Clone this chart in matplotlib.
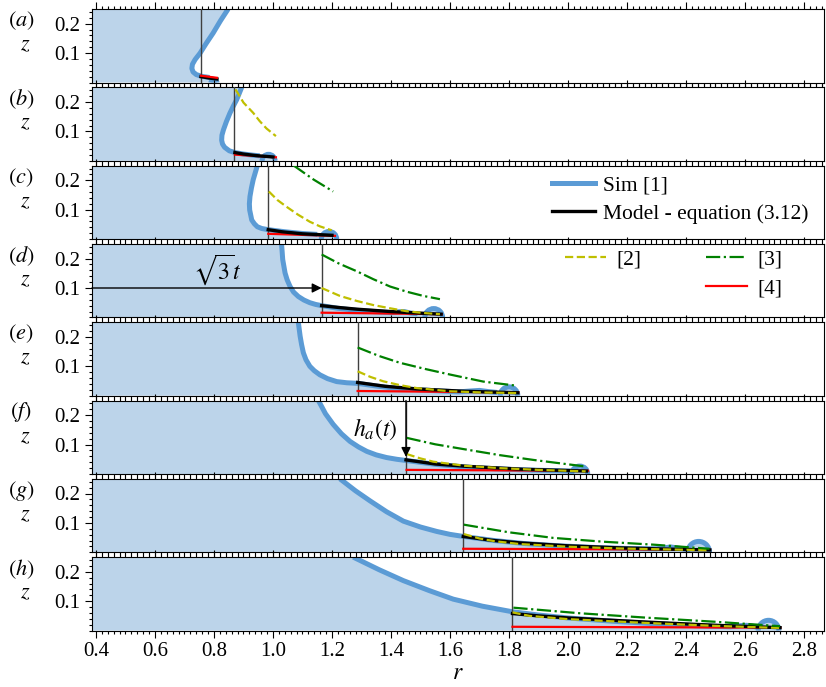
import matplotlib
matplotlib.use('Agg')
import matplotlib.pyplot as plt
from matplotlib.patches import Wedge, Arc
from matplotlib.ticker import MultipleLocator, FixedLocator
from matplotlib.lines import Line2D

plt.rcParams['font.family'] = ['Liberation Serif', 'DejaVu Serif']
plt.rcParams['mathtext.fontset'] = 'stix'

# ---------------- data ----------------
panel_labels = ['a', 'b', 'c', 'd', 'e', 'f', 'g', 'h']
front_r = [0.756, 0.869, 0.984, 1.165, 1.287, 1.451, 1.645, 1.812]  # sqrt(3) t

sim_r = [
    [0.848, 0.822, 0.797, 0.773, 0.753, 0.736, 0.727, 0.725, 0.729, 0.740, 0.758, 0.785],
    [0.894, 0.886, 0.877, 0.865, 0.854, 0.842, 0.832, 0.827, 0.826, 0.829, 0.836, 0.852, 0.871, 0.90, 0.933, 0.955],
    [0.947, 0.940, 0.933, 0.927, 0.922, 0.920, 0.921, 0.928, 0.937, 0.947, 0.962, 0.979, 1.0, 1.04, 1.10, 1.15],
    [1.029, 1.031, 1.033, 1.037, 1.041, 1.048, 1.058, 1.070, 1.086, 1.105, 1.125, 1.145, 1.165, 1.22, 1.284, 1.34, 1.40, 1.425, 1.445, 1.465, 1.49],
    [1.086, 1.089, 1.092, 1.097, 1.103, 1.112, 1.125, 1.14, 1.159, 1.185, 1.216, 1.25, 1.287, 1.35, 1.40, 1.48, 1.55, 1.63, 1.67, 1.70, 1.73, 1.76],
    [1.154, 1.178, 1.204, 1.232, 1.261, 1.29, 1.318, 1.35, 1.385, 1.42, 1.451, 1.55, 1.65, 1.75, 1.85, 1.93, 1.98, 2.01],
    [1.227, 1.28, 1.329, 1.385, 1.442, 1.50, 1.555, 1.60, 1.645, 1.75, 1.85, 1.97, 2.1, 2.2, 2.30, 2.33, 2.35, 2.37, 2.40],
    [1.272, 1.36, 1.442, 1.53, 1.611, 1.71, 1.812, 1.90, 2.0, 2.15, 2.3, 2.45, 2.55, 2.585, 2.606, 2.625, 2.645],
]
sim_z = [
    [0.25, 0.21, 0.168, 0.132, 0.10, 0.078, 0.062, 0.048, 0.036, 0.027, 0.021, 0.017],
    [0.25, 0.23, 0.208, 0.185, 0.162, 0.133, 0.105, 0.087, 0.070, 0.057, 0.046, 0.034, 0.028, 0.023, 0.019, 0.017],
    [0.25, 0.226, 0.202, 0.174, 0.145, 0.12, 0.099, 0.065, 0.052, 0.042, 0.036, 0.033, 0.030, 0.025, 0.019, 0.016],
    [0.25, 0.225, 0.197, 0.174, 0.151, 0.128, 0.105, 0.086, 0.071, 0.059, 0.050, 0.044, 0.040, 0.031, 0.024, 0.020, 0.016, 0.019, 0.020, 0.015, 0.012],
    [0.25, 0.226, 0.203, 0.174, 0.146, 0.122, 0.10, 0.085, 0.071, 0.058, 0.048, 0.044, 0.042, 0.033, 0.027, 0.021, 0.017, 0.013, 0.016, 0.018, 0.014, 0.011],
    [0.25, 0.205, 0.169, 0.137, 0.111, 0.092, 0.077, 0.065, 0.056, 0.050, 0.046, 0.033, 0.024, 0.018, 0.014, 0.012, 0.011, 0.010],
    [0.25, 0.209, 0.175, 0.138, 0.106, 0.086, 0.071, 0.061, 0.054, 0.040, 0.030, 0.022, 0.016, 0.013, 0.012, 0.016, 0.018, 0.015, 0.010],
    [0.25, 0.207, 0.17, 0.136, 0.107, 0.083, 0.064, 0.053, 0.043, 0.032, 0.023, 0.016, 0.013, 0.017, 0.018, 0.015, 0.011],
]
rim_r = [0.800, 0.985, 1.190, 1.545, 1.800, 2.040, 2.443, 2.680]
rim_rad = [0.010, 0.022, 0.026, 0.030, 0.030, 0.027, 0.037, 0.035]

model_r = [
    [0.756, 0.785, 0.81],
    [0.871, 0.90, 0.94, 1.0],
    [0.984, 1.03, 1.1, 1.2],
    [1.165, 1.22, 1.284, 1.397, 1.49, 1.57],
    [1.287, 1.38, 1.487, 1.65, 1.83],
    [1.451, 1.55, 1.656, 1.85, 2.063],
    [1.645, 1.74, 1.837, 2.0, 2.176, 2.33, 2.481],
    [1.812, 1.9, 2.0, 2.266, 2.5, 2.719],
]
model_z = [
    [0.020, 0.015, 0.012],
    [0.028, 0.023, 0.018, 0.013],
    [0.032, 0.025, 0.018, 0.013],
    [0.040, 0.034, 0.028, 0.020, 0.015, 0.011],
    [0.045, 0.032, 0.023, 0.015, 0.010],
    [0.048, 0.034, 0.026, 0.016, 0.010],
    [0.054, 0.041, 0.032, 0.022, 0.015, 0.011, 0.008],
    [0.058, 0.050, 0.043, 0.029, 0.018, 0.010],
]

ref2_r = [
    [],
    [0.873, 0.90, 0.933, 0.955, 0.978, 1.01],
    [0.986, 1.015, 1.046, 1.085, 1.125, 1.16, 1.199],
    [1.165, 1.227, 1.284, 1.34, 1.397, 1.453, 1.51, 1.566],
    [1.287, 1.33, 1.374, 1.43, 1.487, 1.6, 1.71, 1.83],
    [1.453, 1.5, 1.543, 1.65, 1.769, 1.9, 2.06],
    [1.647, 1.7, 1.75, 1.837, 2.0, 2.176, 2.33, 2.48],
    [1.812, 1.87, 2.0, 2.266, 2.5, 2.719],
]
ref2_z = [
    [],
    [0.243, 0.198, 0.163, 0.135, 0.11, 0.084],
    [0.162, 0.133, 0.11, 0.083, 0.059, 0.043, 0.030],
    [0.10, 0.073, 0.056, 0.042, 0.031, 0.021, 0.015, 0.011],
    [0.083, 0.064, 0.049, 0.036, 0.026, 0.015, 0.011, 0.009],
    [0.068, 0.053, 0.042, 0.028, 0.020, 0.014, 0.009],
    [0.062, 0.047, 0.038, 0.028, 0.019, 0.013, 0.010, 0.007],
    [0.062, 0.050, 0.039, 0.026, 0.016, 0.009],
]

ref3_r = [
    [],
    [],
    [1.069, 1.137, 1.204],
    [1.165, 1.224, 1.284, 1.34, 1.397, 1.455, 1.51, 1.566],
    [1.287, 1.36, 1.43, 1.52, 1.6, 1.713, 1.826],
    [1.453, 1.55, 1.656, 1.77, 1.882, 2.063],
    [1.647, 1.8, 1.95, 2.12, 2.29, 2.48],
    [1.815, 2.04, 2.266, 2.5, 2.719],
]
ref3_z = [
    [],
    [],
    [0.251, 0.203, 0.162],
    [0.214, 0.183, 0.157, 0.13, 0.105, 0.087, 0.073, 0.062],
    [0.164, 0.135, 0.112, 0.09, 0.072, 0.048, 0.034],
    [0.123, 0.101, 0.083, 0.064, 0.048, 0.025],
    [0.094, 0.068, 0.049, 0.036, 0.026, 0.012],
    [0.078, 0.059, 0.044, 0.030, 0.015],
]

ref4_r = [
    [0.756, 0.81], [0.871, 1.01], [0.984, 1.21], [1.165, 1.572],
    [1.287, 1.832], [1.453, 2.068], [1.645, 2.48], [1.812, 2.72],
]
ref4_z = [
    [0.023, 0.016], [0.021, 0.012], [0.018, 0.011], [0.016, 0.011],
    [0.016, 0.011], [0.014, 0.011], [0.012, 0.009], [0.013, 0.010],
]

# ---------------- styling ----------------
BLUE = '#5b9bd5'
FILL = '#bcd4ea'
XMIN, XMAX = 0.3865, 2.868
FS = 15

W, H = 826, 687
fig = plt.figure(figsize=(W / 100, H / 100), dpi=100)

left_px, right_px = 92, 824
panel_h = 73.5
step = 78.3

axes = []
for k in range(8):
    top_px = 9 + step * k
    ax = fig.add_axes([left_px / W, 1 - (top_px + panel_h) / H,
                       (right_px - left_px) / W, panel_h / H])
    axes.append(ax)

    # fill of the liquid region
    poly_r = [XMIN] + sim_r[k] + [rim_r[k] + rim_rad[k], XMIN]
    poly_z = [0.26] + sim_z[k] + [0.0, 0.0]
    ax.fill(poly_r, poly_z, color=FILL, lw=0, zorder=1)
    ax.add_patch(Wedge((rim_r[k], 0), rim_rad[k], 0, 180, color=FILL, lw=0, zorder=1))

    # simulation interface
    ax.plot(sim_r[k], sim_z[k], color=BLUE, lw=3.6, solid_capstyle='butt', zorder=2)
    ax.add_patch(Arc((rim_r[k], 0), 2 * rim_rad[k], 2 * rim_rad[k], theta1=0, theta2=180,
                     color=BLUE, lw=3.6, zorder=2))

    # front position
    ax.axvline(front_r[k], color='0.25', lw=1.0, zorder=3)

    # references and model
    ax.plot(model_r[k], model_z[k], color='k', lw=2.4, zorder=4)
    ax.plot(ref4_r[k], ref4_z[k], color='r', lw=1.6, zorder=5 if k == 0 else 3.5)
    if ref2_r[k]:
        ax.plot(ref2_r[k], ref2_z[k], color='y', lw=1.6, ls='--', zorder=6)
    if ref3_r[k]:
        ax.plot(ref3_r[k], ref3_z[k], color='g', lw=1.6, ls='-.', zorder=7)

    ax.set_xlim(XMIN, XMAX)
    ax.set_ylim(0, 0.25)
    ax.yaxis.set_major_locator(FixedLocator([0.1, 0.2]))
    ax.yaxis.set_minor_locator(MultipleLocator(0.02))
    ax.xaxis.set_major_locator(MultipleLocator(0.2))
    ax.xaxis.set_minor_locator(MultipleLocator(0.02))
    ax.tick_params(which='both', direction='out', top=True, right=False,
                   labelsize=FS, width=0.8)
    ax.tick_params(which='major', length=5)
    ax.tick_params(which='minor', length=2.5)
    ax.set_yticklabels(['0.1', '0.2'])
    if k < 7:
        ax.tick_params(labelbottom=False)
    else:
        ax.set_xticks([0.4, 0.6, 0.8, 1.0, 1.2, 1.4, 1.6, 1.8, 2.0, 2.2, 2.4, 2.6, 2.8])
        ax.set_xticklabels(['0.4', '0.6', '0.8', '1.0', '1.2', '1.4', '1.6', '1.8',
                            '2.0', '2.2', '2.4', '2.6', '2.8'])
        ax.set_xlabel('$r$', fontsize=17, labelpad=1)
    ax.set_ylabel('$z$', rotation=0, fontsize=16)
    ax.yaxis.set_label_coords(-0.091, 0.37)
    ax.text(-0.097, 0.84, '$(' + panel_labels[k] + ')$', transform=ax.transAxes,
            ha='center', va='center', fontsize=16)
    for s in ax.spines.values():
        s.set_linewidth(0.8)

# legends
h_sim = Line2D([], [], color=BLUE, lw=3.6)
h_model = Line2D([], [], color='k', lw=2.4)
axes[2].legend([h_sim, h_model], ['Sim [1]', 'Model - equation (3.12)'],
               loc='upper left', bbox_to_anchor=(0.628, 0.86), frameon=False,
               fontsize=15.5, handlelength=2.0, handletextpad=0.4,
               borderpad=0, borderaxespad=0, labelspacing=0.35)

h2 = Line2D([], [], color='y', lw=1.6, ls='--')
h3 = Line2D([], [], color='g', lw=1.6, ls='-.')
h4 = Line2D([], [], color='r', lw=1.6)
blank = Line2D([], [], color='none')
axes[3].legend([h2, blank, h3, h4], ['[2]', '', '[3]', '[4]'], ncol=2,
               loc='upper left', bbox_to_anchor=(0.646, 0.93), frameon=False,
               fontsize=15.5, handlelength=1.9, handletextpad=0.5,
               borderpad=0, borderaxespad=0, labelspacing=0.45, columnspacing=3.0)

# annotations
axes[3].annotate('', xy=(front_r[3], 0.1), xytext=(XMIN, 0.1),
                 arrowprops=dict(arrowstyle='-|>', color='k', lw=1.0, mutation_scale=14,
                                 shrinkA=0, shrinkB=0), zorder=8)
axes[3].text(0.81, 0.163, r'$\sqrt{3}t$', ha='center', va='center', fontsize=17)

axes[5].annotate('', xy=(front_r[5], 0.058), xytext=(front_r[5], 0.25),
                 arrowprops=dict(arrowstyle='-|>', color='k', lw=1.0, mutation_scale=14,
                                 shrinkA=0, shrinkB=0), zorder=8)
axes[5].text(1.346, 0.152, r'$h_a(t)$', ha='center', va='center', fontsize=17)

fig.savefig('out.png', dpi=100)
